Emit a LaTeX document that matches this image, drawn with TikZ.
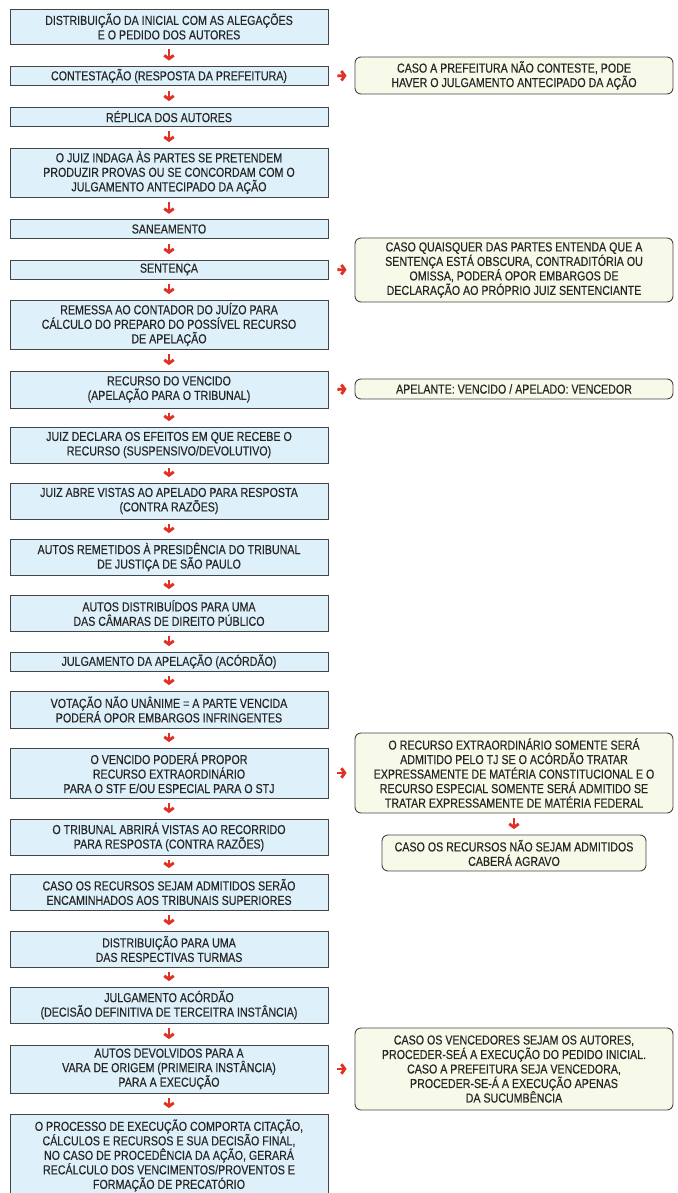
\documentclass[tikz,border=0pt]{standalone}
\usepackage{fontspec}
\setmainfont{Liberation Sans}[FakeStretch=0.82,FakeBold=0.35]
\usetikzlibrary{arrows.meta}
\definecolor{lblue}{HTML}{DEF1FA}
\definecolor{lyel}{HTML}{F7F9E9}
\definecolor{bline}{HTML}{454545}
\definecolor{arr}{HTML}{E03224}
\definecolor{txt}{HTML}{262626}
\begin{document}
\begin{tikzpicture}[x=1pt,y=-1pt,
  box/.style={draw=bline, line width=0.9pt, align=center, inner sep=0pt, text=txt,
    font=\fontsize{13}{14.5}\selectfont, minimum width=318pt},
  lbox/.style={box, fill=lblue},
  rbox/.style={box, fill=lyel, rounded corners=6pt},
  darr/.style={draw=arr, line width=2.9pt, -{Straight Barb[length=3.4pt,width=9.5pt]},
    shorten <=5pt, shorten >=5.5pt},
  rarr/.style={darr, shorten <=9pt, shorten >=8pt}]
\useasboundingbox (0,0) rectangle (677,1193);
% left column
\node[lbox, minimum height=35pt] (n1) at (169,26.5) {DISTRIBUIÇÃO DA INICIAL COM AS ALEGAÇÕES\\E O PEDIDO DOS AUTORES};
\node[lbox, minimum height=19pt] (n2) at (169,76) {CONTESTAÇÃO (RESPOSTA DA PREFEITURA)};
\node[lbox, minimum height=19pt] (n3) at (169,116.5) {RÉPLICA DOS AUTORES};
\node[lbox, minimum height=49pt] (n4) at (169,172.5) {O JUIZ INDAGA ÀS PARTES SE PRETENDEM\\PRODUZIR PROVAS OU SE CONCORDAM COM O\\JULGAMENTO ANTECIPADO DA AÇÃO};
\node[lbox, minimum height=18.5pt] (n5) at (169,229) {SANEAMENTO};
\node[lbox, minimum height=19pt] (n6) at (169,269.5) {SENTENÇA};
\node[lbox, minimum height=49pt] (n7) at (169,324.5) {REMESSA AO CONTADOR DO JUÍZO PARA\\CÁLCULO DO PREPARO DO POSSÍVEL RECURSO\\DE APELAÇÃO};
\node[lbox, minimum height=37pt] (n8) at (169,389.5) {RECURSO DO VENCIDO\\(APELAÇÃO PARA O TRIBUNAL)};
\node[lbox, minimum height=36pt] (n9) at (169,445) {JUIZ DECLARA OS EFEITOS EM QUE RECEBE O\\RECURSO (SUSPENSIVO/DEVOLUTIVO)};
\node[lbox, minimum height=36pt] (n10) at (169,501) {JUIZ ABRE VISTAS AO APELADO PARA RESPOSTA\\(CONTRA RAZÕES)};
\node[lbox, minimum height=36pt] (n11) at (169,557) {AUTOS REMETIDOS À PRESIDÊNCIA DO TRIBUNAL\\DE JUSTIÇA DE SÃO PAULO};
\node[lbox, minimum height=36pt] (n12) at (169,613) {AUTOS DISTRIBUÍDOS PARA UMA\\DAS CÂMARAS DE DIREITO PÚBLICO};
\node[lbox, minimum height=19pt] (n13) at (169,661.5) {JULGAMENTO DA APELAÇÃO (ACÓRDÃO)};
\node[lbox, minimum height=37pt] (n14) at (169,709.5) {VOTAÇÃO NÃO UNÂNIME = A PARTE VENCIDA\\PODERÁ OPOR EMBARGOS INFRINGENTES};
\node[lbox, minimum height=50pt] (n15) at (169,773) {O VENCIDO PODERÁ PROPOR\\RECURSO EXTRAORDINÁRIO\\PARA O STF E/OU ESPECIAL PARA O STJ};
\node[lbox, minimum height=36pt] (n16) at (169,837) {O TRIBUNAL ABRIRÁ VISTAS AO RECORRIDO\\PARA RESPOSTA (CONTRA RAZÕES)};
\node[lbox, minimum height=36pt] (n17) at (169,892) {CASO OS RECURSOS SEJAM ADMITIDOS SERÃO\\ENCAMINHADOS AOS TRIBUNAIS SUPERIORES};
\node[lbox, minimum height=36pt] (n18) at (169,949) {DISTRIBUIÇÃO PARA UMA\\DAS RESPECTIVAS TURMAS};
\node[lbox, minimum height=36pt] (n19) at (169,1005) {JULGAMENTO ACÓRDÃO\\(DECISÃO DEFINITIVA DE TERCEITRA INSTÂNCIA)};
\node[lbox, minimum height=48pt] (n20) at (169,1069) {AUTOS DEVOLVIDOS PARA A\\VARA DE ORIGEM (PRIMEIRA INSTÂNCIA)\\PARA A EXECUÇÃO};
\node[lbox, minimum height=83pt] (n21) at (169,1155.5) {O PROCESSO DE EXECUÇÃO COMPORTA CITAÇÃO,\\CÁLCULOS E RECURSOS E SUA DECISÃO FINAL,\\NO CASO DE PROCEDÊNCIA DA AÇÃO, GERARÁ\\RECÁLCULO DOS VENCIMENTOS/PROVENTOS E\\FORMAÇÃO DE PRECATÓRIO};
% right column
\node[rbox, minimum height=37pt] (r1) at (514,75.5) {CASO A PREFEITURA NÃO CONTESTE, PODE\\HAVER O JULGAMENTO ANTECIPADO DA AÇÃO};
\node[rbox, minimum height=64pt] (r2) at (514,270) {CASO QUAISQUER DAS PARTES ENTENDA QUE A\\SENTENÇA ESTÁ OBSCURA, CONTRADITÓRIA OU\\OMISSA, PODERÁ OPOR EMBARGOS DE\\DECLARAÇÃO AO PRÓPRIO JUIZ SENTENCIANTE};
\node[rbox, minimum height=20pt] (r3) at (514,389) {APELANTE: VENCIDO / APELADO: VENCEDOR};
\node[rbox, minimum height=80pt] (r4) at (514,773) {O RECURSO EXTRAORDINÁRIO SOMENTE SERÁ\\ADMITIDO PELO TJ SE O ACÓRDÃO TRATAR\\EXPRESSAMENTE DE MATÉRIA CONSTITUCIONAL E O\\RECURSO ESPECIAL SOMENTE SERÁ ADMITIDO SE\\TRATAR EXPRESSAMENTE DE MATÉRIA FEDERAL};
\node[rbox, minimum height=36pt, minimum width=264pt] (r5) at (514,853) {CASO OS RECURSOS NÃO SEJAM ADMITIDOS\\CABERÁ AGRAVO};
\node[rbox, minimum height=82pt] (r6) at (514,1069) {CASO OS VENCEDORES SEJAM OS AUTORES,\\PROCEDER-SEÁ A EXECUÇÃO DO PEDIDO INICIAL.\\CASO A PREFEITURA SEJA VENCEDORA,\\PROCEDER-SE-Á A EXECUÇÃO APENAS\\DA SUCUMBÊNCIA};
% down arrows
\foreach \a/\b in {n1/n2,n2/n3,n3/n4,n4/n5,n5/n6,n6/n7,n7/n8,n8/n9,n9/n10,n10/n11,n11/n12,n12/n13,n13/n14,n14/n15,n15/n16,n16/n17,n17/n18,n18/n19,n19/n20,n20/n21,r4/r5}
  \draw[darr] (\a.south) -- (\b.north);
% side arrows
\foreach \a/\b in {n2/r1,n6/r2,n8/r3,n15/r4,n20/r6}
  \draw[rarr] (\a.east) -- (\b.west);
\end{tikzpicture}
\end{document}
